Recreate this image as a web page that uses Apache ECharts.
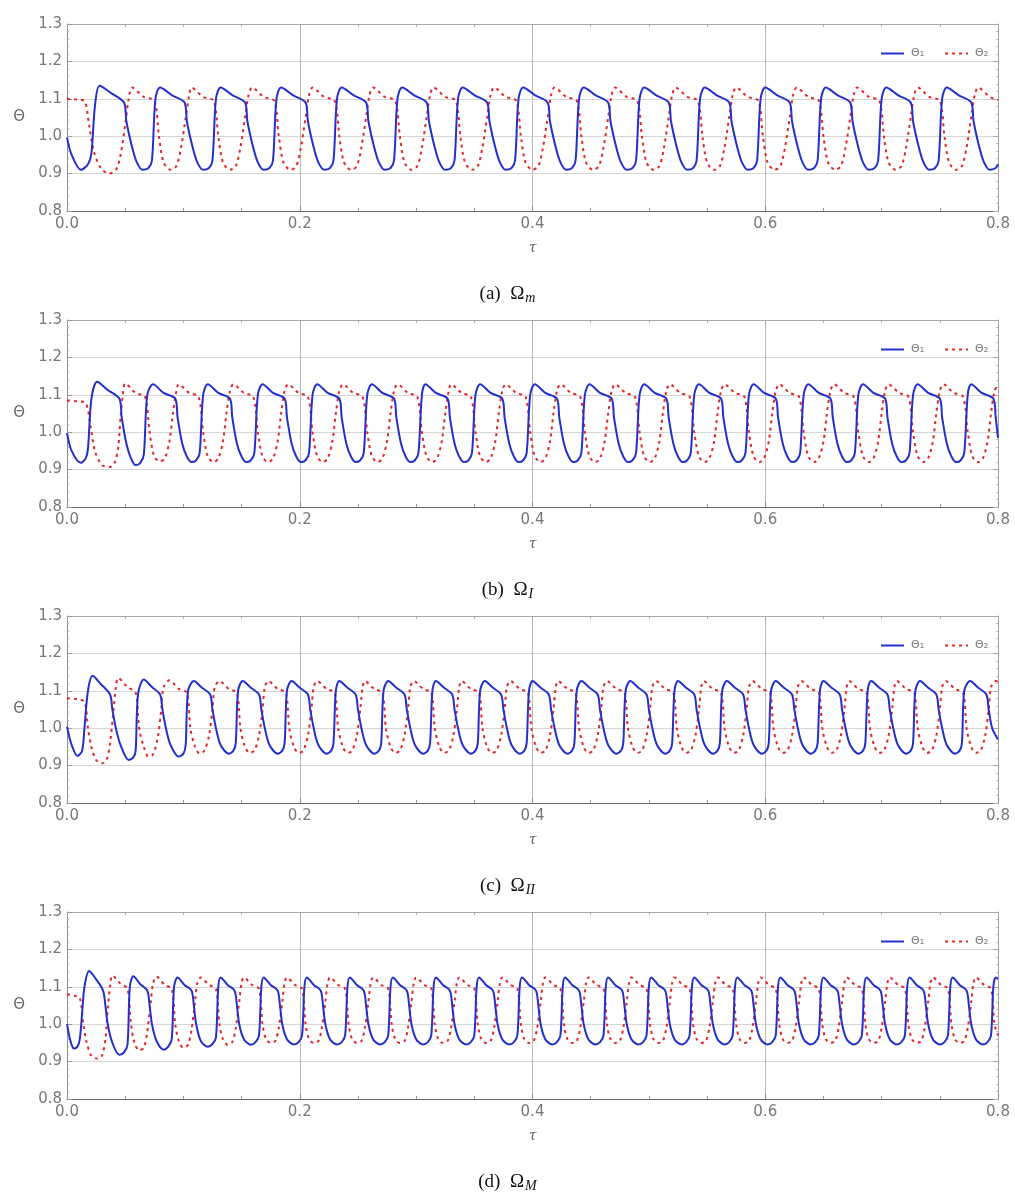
<!DOCTYPE html>
<html>
<head>
<meta charset="utf-8">
<script src="https://cdn.jsdelivr.net/npm/echarts@6/dist/echarts.min.js"></script>
<style>
html,body{margin:0;padding:0;background:#fff;}
#chart{width:1015px;height:1193px;}
</style>
</head>
<body>
<div id="chart"></div>
<script>
// ---- tick labels / axis ranges ----
const xTicks = [0.0, 0.2, 0.4, 0.6, 0.8];
const yTicks = [0.8, 0.9, 1.0, 1.1, 1.2, 1.3];
const legendNames = ['Θ₁', 'Θ₂'];
const captions = [['(a)  Ω', 'm'], ['(b)  Ω', 'I'], ['(c)  Ω', 'II'], ['(d)  Ω', 'M']];

// ---- panel (a) Ω_m : [τ, Θ] ----
const a1 = [[0,.997],[.004,.95],[.012,.91],[.018,.925],[.021,.955],[.024,1.08],
[.028,1.135],[.038,1.115],[.049,1.09],[.051,1.04],[.056,.97],[.060,.93],[.065,.91],[.070,.915],[.073,.935],[.076,1.10],
[.080,1.13],[.090,1.11],[.101,1.09],[.103,1.04],[.108,.97],[.112,.93],[.117,.91],[.122,.915],[.125,.935],[.128,1.10],
[.132,1.13],[.142,1.11],[.153,1.09],[.155,1.04],[.160,.97],[.164,.93],[.169,.91],[.174,.915],[.177,.935],[.180,1.10],
[.184,1.13],[.194,1.11],[.205,1.09],[.207,1.04],[.212,.97],[.216,.93],[.221,.91],[.226,.915],[.229,.935],[.232,1.10],
[.236,1.13],[.246,1.11],[.257,1.09],[.259,1.04],[.264,.97],[.268,.93],[.273,.91],[.278,.915],[.281,.935],[.284,1.10],
[.288,1.13],[.298,1.11],[.309,1.09],[.311,1.04],[.316,.97],[.320,.93],[.325,.91],[.330,.915],[.333,.935],[.336,1.10],
[.340,1.13],[.350,1.11],[.361,1.09],[.363,1.04],[.368,.97],[.372,.93],[.377,.91],[.382,.915],[.385,.935],[.388,1.10],
[.392,1.13],[.402,1.11],[.413,1.09],[.415,1.04],[.420,.97],[.424,.93],[.429,.91],[.434,.915],[.437,.935],[.440,1.10],
[.444,1.13],[.454,1.11],[.465,1.09],[.467,1.04],[.472,.97],[.476,.93],[.481,.91],[.486,.915],[.489,.935],[.492,1.10],
[.496,1.13],[.506,1.11],[.517,1.09],[.519,1.04],[.524,.97],[.528,.93],[.533,.91],[.538,.915],[.541,.935],[.544,1.10],
[.548,1.13],[.558,1.11],[.569,1.09],[.571,1.04],[.576,.97],[.580,.93],[.585,.91],[.590,.915],[.593,.935],[.596,1.10],
[.600,1.13],[.610,1.11],[.621,1.09],[.623,1.04],[.628,.97],[.632,.93],[.637,.91],[.642,.915],[.645,.935],[.648,1.10],
[.652,1.13],[.662,1.11],[.673,1.09],[.675,1.04],[.680,.97],[.684,.93],[.689,.91],[.694,.915],[.697,.935],[.700,1.10],
[.704,1.13],[.714,1.11],[.725,1.09],[.727,1.04],[.732,.97],[.736,.93],[.741,.91],[.746,.915],[.749,.935],[.752,1.10],
[.756,1.13],[.766,1.11],[.777,1.09],[.779,1.04],[.784,.97],[.788,.93],[.793,.91],[.798,.915],[.800,.925]];

const a2 = [[0,1.10],[.008,1.098],[.015,1.094],[.019,1.03],[.023,.96],[.029,.915],[.036,.90],[.042,.91],[.046,.95],[.050,1.03],[.053,1.10],
[.056,1.13],[.066,1.105],[.075,1.095],[.079,1.0],[.083,.93],[.089,.91],[.094,.92],[.098,.97],[.102,1.05],[.105,1.11],
[.107,1.13],[.117,1.105],[.126,1.095],[.130,1.0],[.134,.93],[.140,.91],[.145,.92],[.149,.97],[.153,1.05],[.156,1.11],
[.159,1.13],[.169,1.105],[.178,1.095],[.182,1.0],[.186,.93],[.192,.91],[.197,.92],[.201,.97],[.205,1.05],[.208,1.11],
[.211,1.13],[.221,1.105],[.230,1.095],[.234,1.0],[.238,.93],[.244,.91],[.249,.92],[.253,.97],[.257,1.05],[.260,1.11],
[.263,1.13],[.273,1.105],[.282,1.095],[.286,1.0],[.290,.93],[.296,.91],[.301,.92],[.305,.97],[.309,1.05],[.312,1.11],
[.315,1.13],[.325,1.105],[.334,1.095],[.338,1.0],[.342,.93],[.348,.91],[.353,.92],[.357,.97],[.361,1.05],[.364,1.11],
[.367,1.13],[.377,1.105],[.386,1.095],[.390,1.0],[.394,.93],[.400,.91],[.405,.92],[.409,.97],[.413,1.05],[.416,1.11],
[.419,1.13],[.429,1.105],[.438,1.095],[.442,1.0],[.446,.93],[.452,.91],[.457,.92],[.461,.97],[.465,1.05],[.468,1.11],
[.471,1.13],[.481,1.105],[.490,1.095],[.494,1.0],[.498,.93],[.504,.91],[.509,.92],[.513,.97],[.517,1.05],[.520,1.11],
[.523,1.13],[.533,1.105],[.542,1.095],[.546,1.0],[.550,.93],[.556,.91],[.561,.92],[.565,.97],[.569,1.05],[.572,1.11],
[.575,1.13],[.585,1.105],[.594,1.095],[.598,1.0],[.602,.93],[.608,.91],[.613,.92],[.617,.97],[.621,1.05],[.624,1.11],
[.627,1.13],[.637,1.105],[.646,1.095],[.650,1.0],[.654,.93],[.660,.91],[.665,.92],[.669,.97],[.673,1.05],[.676,1.11],
[.679,1.13],[.689,1.105],[.698,1.095],[.702,1.0],[.706,.93],[.712,.91],[.717,.92],[.721,.97],[.725,1.05],[.728,1.11],
[.731,1.13],[.741,1.105],[.750,1.095],[.754,1.0],[.758,.93],[.764,.91],[.769,.92],[.773,.97],[.777,1.05],[.780,1.11],
[.783,1.13],[.793,1.105],[.800,1.097]];

// ---- panel (b) Ω_I ----
const b1 = [[0,.998],[.004,.95],[.012,.918],[.016,.93],[.018,.955],[.021,1.09],
[.026,1.135],[.035,1.113],[.045,1.09],[.047,1.04],[.051,.97],[.055,.93],[.059,.912],[.063,.918],[.066,.94],[.069,1.10],
[.074,1.128],[.083,1.105],[.093,1.09],[.095,1.04],[.099,.97],[.103,.935],[.107,.92],[.111,.925],[.114,.945],[.117,1.10],
[.121,1.128],[.130,1.105],[.140,1.09],[.142,1.04],[.146,.97],[.150,.935],[.154,.92],[.158,.925],[.161,.945],[.164,1.10],
[.168,1.128],[.177,1.105],[.187,1.09],[.189,1.04],[.193,.97],[.197,.935],[.201,.92],[.205,.925],[.208,.945],[.211,1.10],
[.215,1.128],[.224,1.105],[.234,1.09],[.236,1.04],[.240,.97],[.244,.935],[.248,.92],[.252,.925],[.255,.945],[.258,1.10],
[.262,1.128],[.271,1.105],[.281,1.09],[.283,1.04],[.287,.97],[.291,.935],[.295,.92],[.299,.925],[.302,.945],[.305,1.10],
[.308,1.128],[.317,1.105],[.327,1.09],[.329,1.04],[.333,.97],[.337,.935],[.341,.92],[.345,.925],[.348,.945],[.351,1.10],
[.355,1.128],[.364,1.105],[.374,1.09],[.376,1.04],[.380,.97],[.384,.935],[.388,.92],[.392,.925],[.395,.945],[.398,1.10],
[.402,1.128],[.411,1.105],[.421,1.09],[.423,1.04],[.427,.97],[.431,.935],[.435,.92],[.439,.925],[.442,.945],[.445,1.10],
[.449,1.128],[.458,1.105],[.468,1.09],[.470,1.04],[.474,.97],[.478,.935],[.482,.92],[.486,.925],[.489,.945],[.492,1.10],
[.496,1.128],[.505,1.105],[.515,1.09],[.517,1.04],[.521,.97],[.525,.935],[.529,.92],[.533,.925],[.536,.945],[.539,1.10],
[.543,1.128],[.552,1.105],[.562,1.09],[.564,1.04],[.568,.97],[.572,.935],[.576,.92],[.580,.925],[.583,.945],[.586,1.10],
[.590,1.128],[.599,1.105],[.609,1.09],[.611,1.04],[.615,.97],[.619,.935],[.623,.92],[.627,.925],[.630,.945],[.633,1.10],
[.637,1.128],[.646,1.105],[.656,1.09],[.658,1.04],[.662,.97],[.666,.935],[.670,.92],[.674,.925],[.677,.945],[.680,1.10],
[.684,1.128],[.693,1.105],[.703,1.09],[.705,1.04],[.709,.97],[.713,.935],[.717,.92],[.721,.925],[.724,.945],[.727,1.10],
[.731,1.128],[.740,1.105],[.750,1.09],[.752,1.04],[.756,.97],[.760,.935],[.764,.92],[.768,.925],[.771,.945],[.774,1.10],
[.777,1.128],[.786,1.105],[.796,1.09],[.798,1.04],[.800,.985]];

const b2 = [[0,1.085],[.008,1.083],[.016,1.078],[.020,1.02],[.024,.95],[.030,.912],[.037,.907],[.041,.918],[.044,.96],[.046,1.04],[.048,1.10],
[.050,1.13],[.059,1.105],[.067,1.095],[.071,1.0],[.075,.935],[.080,.922],[.084,.93],[.088,.975],[.091,1.05],[.094,1.11],
[.096,1.128],[.105,1.105],[.113,1.095],[.117,1.0],[.121,.935],[.126,.92],[.130,.93],[.134,.975],[.137,1.05],[.140,1.11],
[.143,1.128],[.152,1.105],[.160,1.095],[.164,1.0],[.168,.935],[.173,.92],[.177,.93],[.181,.975],[.184,1.05],[.187,1.11],
[.190,1.128],[.199,1.105],[.207,1.095],[.211,1.0],[.215,.935],[.220,.92],[.224,.93],[.228,.975],[.231,1.05],[.234,1.11],
[.237,1.128],[.246,1.105],[.254,1.095],[.258,1.0],[.262,.935],[.267,.92],[.271,.93],[.275,.975],[.278,1.05],[.281,1.11],
[.284,1.128],[.293,1.105],[.301,1.095],[.305,1.0],[.309,.935],[.314,.92],[.318,.93],[.322,.975],[.325,1.05],[.328,1.11],
[.330,1.128],[.339,1.105],[.347,1.095],[.351,1.0],[.355,.935],[.360,.92],[.364,.93],[.368,.975],[.371,1.05],[.374,1.11],
[.377,1.128],[.386,1.105],[.394,1.095],[.398,1.0],[.402,.935],[.407,.92],[.411,.93],[.415,.975],[.418,1.05],[.421,1.11],
[.424,1.128],[.433,1.105],[.441,1.095],[.445,1.0],[.449,.935],[.454,.92],[.458,.93],[.462,.975],[.465,1.05],[.468,1.11],
[.471,1.128],[.480,1.105],[.488,1.095],[.492,1.0],[.496,.935],[.501,.92],[.505,.93],[.509,.975],[.512,1.05],[.515,1.11],
[.518,1.128],[.527,1.105],[.535,1.095],[.539,1.0],[.543,.935],[.548,.92],[.552,.93],[.556,.975],[.559,1.05],[.562,1.11],
[.565,1.128],[.574,1.105],[.582,1.095],[.586,1.0],[.590,.935],[.595,.92],[.599,.93],[.603,.975],[.606,1.05],[.609,1.11],
[.612,1.128],[.621,1.105],[.629,1.095],[.633,1.0],[.637,.935],[.642,.92],[.646,.93],[.650,.975],[.653,1.05],[.656,1.11],
[.659,1.128],[.668,1.105],[.676,1.095],[.680,1.0],[.684,.935],[.689,.92],[.693,.93],[.697,.975],[.700,1.05],[.703,1.11],
[.706,1.128],[.715,1.105],[.723,1.095],[.727,1.0],[.731,.935],[.736,.92],[.740,.93],[.744,.975],[.747,1.05],[.750,1.11],
[.753,1.128],[.762,1.105],[.770,1.095],[.774,1.0],[.778,.935],[.783,.92],[.787,.93],[.791,.975],[.794,1.05],[.797,1.11],
[.800,1.127]];

// ---- panel (c) Ω_II ----
const c1 = [[0,1.004],[.004,.955],[.009,.926],[.013,.94],[.015,1.0],[.018,1.10],
[.022,1.14],[.029,1.118],[.037,1.09],[.039,1.05],[.042,1.0],[.046,.955],[.053,.915],[.057,.922],[.059,.94],[.061,1.09],
[.066,1.13],[.073,1.11],[.080,1.09],[.082,1.05],[.085,1.0],[.089,.955],[.096,.924],[.100,.932],[.102,.955],[.104,1.10],
[.109,1.126],[.116,1.108],[.123,1.09],[.125,1.05],[.128,1.0],[.132,.955],[.139,.932],[.143,.94],[.145,.96],[.147,1.10],
[.151,1.126],[.158,1.108],[.165,1.09],[.167,1.05],[.170,1.0],[.174,.955],[.181,.932],[.185,.94],[.187,.96],[.189,1.10],
[.193,1.126],[.200,1.108],[.207,1.09],[.209,1.05],[.212,1.0],[.216,.955],[.223,.932],[.227,.94],[.229,.96],[.231,1.10],
[.234,1.126],[.241,1.108],[.248,1.09],[.250,1.05],[.253,1.0],[.257,.955],[.264,.932],[.268,.94],[.270,.96],[.272,1.10],
[.276,1.126],[.283,1.108],[.290,1.09],[.292,1.05],[.295,1.0],[.299,.955],[.306,.932],[.310,.94],[.312,.96],[.314,1.10],
[.317,1.126],[.324,1.108],[.331,1.09],[.333,1.05],[.336,1.0],[.340,.955],[.347,.932],[.351,.94],[.353,.96],[.355,1.10],
[.359,1.126],[.366,1.108],[.373,1.09],[.375,1.05],[.378,1.0],[.382,.955],[.389,.932],[.393,.94],[.395,.96],[.397,1.10],
[.400,1.126],[.407,1.108],[.414,1.09],[.416,1.05],[.419,1.0],[.423,.955],[.430,.932],[.434,.94],[.436,.96],[.438,1.10],
[.442,1.126],[.449,1.108],[.456,1.09],[.458,1.05],[.461,1.0],[.465,.955],[.472,.932],[.476,.94],[.478,.96],[.480,1.10],
[.484,1.126],[.491,1.108],[.498,1.09],[.500,1.05],[.503,1.0],[.507,.955],[.514,.932],[.518,.94],[.520,.96],[.522,1.10],
[.525,1.126],[.532,1.108],[.539,1.09],[.541,1.05],[.544,1.0],[.548,.955],[.555,.932],[.559,.94],[.561,.96],[.563,1.10],
[.567,1.126],[.574,1.108],[.581,1.09],[.583,1.05],[.586,1.0],[.590,.955],[.597,.932],[.601,.94],[.603,.96],[.605,1.10],
[.609,1.126],[.616,1.108],[.623,1.09],[.625,1.05],[.628,1.0],[.632,.955],[.639,.932],[.643,.94],[.645,.96],[.647,1.10],
[.650,1.126],[.657,1.108],[.664,1.09],[.666,1.05],[.669,1.0],[.673,.955],[.680,.932],[.684,.94],[.686,.96],[.688,1.10],
[.691,1.126],[.698,1.108],[.705,1.09],[.707,1.05],[.710,1.0],[.714,.955],[.721,.932],[.725,.94],[.727,.96],[.729,1.10],
[.733,1.126],[.740,1.108],[.747,1.09],[.749,1.05],[.752,1.0],[.756,.955],[.763,.932],[.767,.94],[.769,.96],[.771,1.10],
[.776,1.126],[.783,1.108],[.790,1.09],[.792,1.05],[.795,1.0],[.800,.97]];

const c2 = [[0,1.08],[.008,1.078],[.015,1.07],[.018,1.0],[.021,.95],[.025,.915],[.030,.906],[.034,.915],[.037,.96],[.040,1.05],[.042,1.11],
[.044,1.134],[.052,1.11],[.059,1.095],[.062,1.0],[.066,.95],[.070,.924],[.074,.93],[.078,.975],[.081,1.05],[.083,1.11],
[.088,1.128],[.096,1.105],[.103,1.095],[.106,1.0],[.110,.95],[.114,.932],[.118,.94],[.122,.98],[.125,1.05],[.127,1.11],
[.131,1.126],[.139,1.105],[.146,1.095],[.149,1.0],[.153,.95],[.157,.934],[.161,.94],[.165,.98],[.168,1.05],[.170,1.11],
[.173,1.126],[.181,1.105],[.188,1.095],[.191,1.0],[.195,.95],[.199,.934],[.203,.94],[.207,.98],[.210,1.05],[.212,1.11],
[.215,1.126],[.223,1.105],[.230,1.095],[.233,1.0],[.237,.95],[.241,.934],[.245,.94],[.249,.98],[.252,1.05],[.254,1.11],
[.256,1.126],[.264,1.105],[.271,1.095],[.274,1.0],[.278,.95],[.282,.934],[.286,.94],[.290,.98],[.293,1.05],[.295,1.11],
[.298,1.126],[.306,1.105],[.313,1.095],[.316,1.0],[.320,.95],[.324,.934],[.328,.94],[.332,.98],[.335,1.05],[.337,1.11],
[.339,1.126],[.347,1.105],[.354,1.095],[.357,1.0],[.361,.95],[.365,.934],[.369,.94],[.373,.98],[.376,1.05],[.378,1.11],
[.381,1.126],[.389,1.105],[.396,1.095],[.399,1.0],[.403,.95],[.407,.934],[.411,.94],[.415,.98],[.418,1.05],[.420,1.11],
[.422,1.126],[.430,1.105],[.437,1.095],[.440,1.0],[.444,.95],[.448,.934],[.452,.94],[.456,.98],[.459,1.05],[.461,1.11],
[.464,1.126],[.472,1.105],[.479,1.095],[.482,1.0],[.486,.95],[.490,.934],[.494,.94],[.498,.98],[.501,1.05],[.503,1.11],
[.506,1.126],[.514,1.105],[.521,1.095],[.524,1.0],[.528,.95],[.532,.934],[.536,.94],[.540,.98],[.543,1.05],[.545,1.11],
[.547,1.126],[.555,1.105],[.562,1.095],[.565,1.0],[.569,.95],[.573,.934],[.577,.94],[.581,.98],[.584,1.05],[.586,1.11],
[.589,1.126],[.597,1.105],[.604,1.095],[.607,1.0],[.611,.95],[.615,.934],[.619,.94],[.623,.98],[.626,1.05],[.628,1.11],
[.631,1.126],[.639,1.105],[.646,1.095],[.649,1.0],[.653,.95],[.657,.934],[.661,.94],[.665,.98],[.668,1.05],[.670,1.11],
[.672,1.126],[.680,1.105],[.687,1.095],[.690,1.0],[.694,.95],[.698,.934],[.702,.94],[.706,.98],[.709,1.05],[.711,1.11],
[.713,1.126],[.721,1.105],[.728,1.095],[.731,1.0],[.735,.95],[.739,.934],[.743,.94],[.747,.98],[.750,1.05],[.752,1.11],
[.755,1.126],[.763,1.105],[.770,1.095],[.773,1.0],[.777,.95],[.781,.934],[.785,.94],[.789,.98],[.792,1.05],[.794,1.11],
[.798,1.126],[.800,1.125]];

// ---- panel (d) Ω_M ----
const d1 = [[0,1.0],[.003,.955],[.006,.935],[.009,.94],[.011,.96],[.013,1.03],[.015,1.10],
[.019,1.142],[.025,1.12],[.031,1.09],[.033,1.05],[.035,1.0],[.039,.95],[.045,.918],[.049,.925],[.052,.945],[.054,1.10],
[.057,1.128],[.063,1.107],[.069,1.09],[.071,1.05],[.073,1.0],[.077,.955],[.083,.932],[.087,.94],[.090,.96],[.092,1.10],
[.095,1.125],[.101,1.105],[.107,1.09],[.109,1.05],[.111,1.0],[.115,.955],[.121,.94],[.125,.947],[.128,.965],[.130,1.10],
[.132,1.125],[.138,1.105],[.144,1.09],[.146,1.05],[.148,1.0],[.152,.96],[.158,.945],[.162,.952],[.165,.97],[.167,1.10],
[.169,1.125],[.175,1.105],[.181,1.09],[.183,1.05],[.185,1.0],[.189,.96],[.195,.946],[.199,.952],[.202,.97],[.204,1.10],
[.206,1.125],[.212,1.105],[.218,1.09],[.220,1.05],[.222,1.0],[.226,.96],[.232,.946],[.236,.952],[.239,.97],[.241,1.10],
[.243,1.125],[.249,1.105],[.255,1.09],[.257,1.05],[.259,1.0],[.263,.96],[.269,.946],[.273,.952],[.276,.97],[.278,1.10],
[.280,1.125],[.286,1.105],[.292,1.09],[.294,1.05],[.296,1.0],[.300,.96],[.306,.946],[.310,.952],[.313,.97],[.315,1.10],
[.317,1.125],[.323,1.105],[.329,1.09],[.331,1.05],[.333,1.0],[.337,.96],[.343,.946],[.347,.952],[.350,.97],[.352,1.10],
[.354,1.125],[.360,1.105],[.366,1.09],[.368,1.05],[.370,1.0],[.374,.96],[.380,.946],[.384,.952],[.387,.97],[.389,1.10],
[.391,1.125],[.397,1.105],[.403,1.09],[.405,1.05],[.407,1.0],[.411,.96],[.417,.946],[.421,.952],[.424,.97],[.426,1.10],
[.428,1.125],[.434,1.105],[.440,1.09],[.442,1.05],[.444,1.0],[.448,.96],[.454,.946],[.458,.952],[.461,.97],[.463,1.10],
[.465,1.125],[.471,1.105],[.477,1.09],[.479,1.05],[.481,1.0],[.485,.96],[.491,.946],[.495,.952],[.498,.97],[.500,1.10],
[.502,1.125],[.508,1.105],[.514,1.09],[.516,1.05],[.518,1.0],[.522,.96],[.528,.946],[.532,.952],[.535,.97],[.537,1.10],
[.539,1.125],[.545,1.105],[.551,1.09],[.553,1.05],[.555,1.0],[.559,.96],[.565,.946],[.569,.952],[.572,.97],[.574,1.10],
[.576,1.125],[.582,1.105],[.588,1.09],[.590,1.05],[.592,1.0],[.596,.96],[.602,.946],[.606,.952],[.609,.97],[.611,1.10],
[.613,1.125],[.619,1.105],[.625,1.09],[.627,1.05],[.629,1.0],[.633,.96],[.639,.946],[.643,.952],[.646,.97],[.648,1.10],
[.650,1.125],[.656,1.105],[.662,1.09],[.664,1.05],[.666,1.0],[.670,.96],[.676,.946],[.680,.952],[.683,.97],[.685,1.10],
[.687,1.125],[.693,1.105],[.699,1.09],[.701,1.05],[.703,1.0],[.707,.96],[.713,.946],[.717,.952],[.720,.97],[.722,1.10],
[.724,1.125],[.730,1.105],[.736,1.09],[.738,1.05],[.740,1.0],[.744,.96],[.750,.946],[.754,.952],[.757,.97],[.759,1.10],
[.761,1.125],[.767,1.105],[.773,1.09],[.775,1.05],[.777,1.0],[.781,.96],[.787,.946],[.791,.952],[.794,.97],[.796,1.10],
[.798,1.125],[.800,1.122]];

const d2 = [[0,1.08],[.006,1.076],[.011,1.07],[.014,1.0],[.017,.95],[.021,.915],[.026,.908],[.030,.915],[.033,.96],[.035,1.04],[.037,1.10],
[.039,1.13],[.046,1.108],[.052,1.095],[.055,1.0],[.058,.95],[.062,.93],[.066,.937],[.069,.98],[.072,1.06],[.074,1.11],
[.077,1.127],[.084,1.105],[.090,1.095],[.093,1.0],[.096,.955],[.100,.937],[.104,.945],[.107,.985],[.110,1.06],[.112,1.11],
[.115,1.125],[.122,1.105],[.128,1.095],[.131,1.0],[.134,.96],[.138,.945],[.142,.952],[.145,.99],[.148,1.06],[.150,1.11],
[.152,1.125],[.159,1.105],[.165,1.095],[.168,1.0],[.171,.96],[.175,.95],[.179,.955],[.182,.99],[.185,1.06],[.187,1.11],
[.189,1.125],[.196,1.105],[.202,1.095],[.205,1.0],[.208,.96],[.212,.95],[.216,.955],[.219,.99],[.222,1.06],[.224,1.11],
[.226,1.125],[.233,1.105],[.239,1.095],[.242,1.0],[.245,.96],[.249,.95],[.253,.955],[.256,.99],[.259,1.06],[.261,1.11],
[.263,1.125],[.270,1.105],[.276,1.095],[.279,1.0],[.282,.96],[.286,.95],[.290,.955],[.293,.99],[.296,1.06],[.298,1.11],
[.300,1.125],[.307,1.105],[.313,1.095],[.316,1.0],[.319,.96],[.323,.95],[.327,.955],[.330,.99],[.333,1.06],[.335,1.11],
[.337,1.125],[.344,1.105],[.350,1.095],[.353,1.0],[.356,.96],[.360,.95],[.364,.955],[.367,.99],[.370,1.06],[.372,1.11],
[.374,1.125],[.381,1.105],[.387,1.095],[.390,1.0],[.393,.96],[.397,.95],[.401,.955],[.404,.99],[.407,1.06],[.409,1.11],
[.411,1.125],[.418,1.105],[.424,1.095],[.427,1.0],[.430,.96],[.434,.95],[.438,.955],[.441,.99],[.444,1.06],[.446,1.11],
[.448,1.125],[.455,1.105],[.461,1.095],[.464,1.0],[.467,.96],[.471,.95],[.475,.955],[.478,.99],[.481,1.06],[.483,1.11],
[.485,1.125],[.492,1.105],[.498,1.095],[.501,1.0],[.504,.96],[.508,.95],[.512,.955],[.515,.99],[.518,1.06],[.520,1.11],
[.522,1.125],[.529,1.105],[.535,1.095],[.538,1.0],[.541,.96],[.545,.95],[.549,.955],[.552,.99],[.555,1.06],[.557,1.11],
[.559,1.125],[.566,1.105],[.572,1.095],[.575,1.0],[.578,.96],[.582,.95],[.586,.955],[.589,.99],[.592,1.06],[.594,1.11],
[.596,1.125],[.603,1.105],[.609,1.095],[.612,1.0],[.615,.96],[.619,.95],[.623,.955],[.626,.99],[.629,1.06],[.631,1.11],
[.633,1.125],[.640,1.105],[.646,1.095],[.649,1.0],[.652,.96],[.656,.95],[.660,.955],[.663,.99],[.666,1.06],[.668,1.11],
[.670,1.125],[.677,1.105],[.683,1.095],[.686,1.0],[.689,.96],[.693,.95],[.697,.955],[.700,.99],[.703,1.06],[.705,1.11],
[.707,1.125],[.714,1.105],[.720,1.095],[.723,1.0],[.726,.96],[.730,.95],[.734,.955],[.737,.99],[.740,1.06],[.742,1.11],
[.744,1.125],[.751,1.105],[.757,1.095],[.760,1.0],[.763,.96],[.767,.95],[.771,.955],[.774,.99],[.777,1.06],[.779,1.11],
[.781,1.125],[.788,1.105],[.794,1.095],[.797,1.0],[.800,.97]];

const panelData = [[a1, a2], [b1, b2], [c1, c2], [d1, d2]];

// ---- layout ----
const PLOT_LEFT = 67, PLOT_RIGHT = 17, PLOT_H = 187;
const TOPS = [24, 320, 616, 912];
const BLUE = '#2430cc', RED = '#e3262a';
const LABEL_FONT = 'DejaVu Sans';

const grids = [], xAxes = [], yAxes = [], series = [], legends = [], titles = [];
TOPS.forEach((top, i) => {
  grids.push({left: PLOT_LEFT, right: PLOT_RIGHT, top: top, height: PLOT_H, containLabel: false});
  xAxes.push({
    type: 'value', gridIndex: i, min: xTicks[0], max: xTicks[xTicks.length - 1], interval: 0.2,
    name: 'τ', nameLocation: 'middle', nameGap: 30,
    nameTextStyle: {fontFamily: 'DejaVu Serif', fontStyle: 'italic', fontSize: 14, color: '#666'},
    axisLine: {onZero: false, lineStyle: {color: '#6a6a6a', width: 1}},
    axisTick: {inside: true, length: 5, lineStyle: {color: '#888'}},
    minorTick: {show: true, splitNumber: 4, length: 3, lineStyle: {color: '#999'}},
    axisLabel: {margin: 6, fontFamily: LABEL_FONT, fontSize: 15, color: '#777', formatter: v => v.toFixed(1)},
    splitLine: {show: true, lineStyle: {color: '#b8b8b8', width: 1}}
  });
  xAxes.push({
    type: 'value', gridIndex: i, position: 'top', min: xTicks[0], max: xTicks[xTicks.length - 1], interval: 0.2,
    axisLine: {onZero: false, lineStyle: {color: '#a8a8a8', width: 1}},
    axisTick: {inside: true, length: 5, lineStyle: {color: '#aaa'}},
    minorTick: {show: true, splitNumber: 4, length: 3, lineStyle: {color: '#aaa'}},
    axisLabel: {show: false}, splitLine: {show: false}
  });
  yAxes.push({
    type: 'value', gridIndex: i, min: yTicks[0], max: yTicks[yTicks.length - 1], interval: 0.1,
    name: 'Θ', nameLocation: 'middle', nameGap: 42, nameRotate: 0,
    nameTextStyle: {fontFamily: LABEL_FONT, fontSize: 15, color: '#666'},
    axisLine: {show: true, onZero: false, lineStyle: {color: '#8a8a8a', width: 1}},
    axisTick: {show: true, inside: true, length: 5, lineStyle: {color: '#999'}},
    minorTick: {show: true, splitNumber: 5, length: 2, lineStyle: {color: '#aaa'}},
    axisLabel: {margin: 5, fontFamily: LABEL_FONT, fontSize: 15, color: '#777', formatter: v => v.toFixed(1)},
    splitLine: {show: true, lineStyle: {color: '#d6d6d6', width: 1}}
  });
  yAxes.push({
    type: 'value', gridIndex: i, position: 'right', min: yTicks[0], max: yTicks[yTicks.length - 1], interval: 0.1,
    axisLine: {show: true, onZero: false, lineStyle: {color: '#a0a0a0', width: 1}},
    axisTick: {show: true, inside: true, length: 5, lineStyle: {color: '#aaa'}},
    minorTick: {show: true, splitNumber: 5, length: 2, lineStyle: {color: '#bbb'}},
    axisLabel: {show: false}, splitLine: {show: false}
  });
  const [s1, s2] = panelData[i];
  series.push({
    name: legendNames[0], type: 'line', xAxisIndex: 2 * i, yAxisIndex: 2 * i, data: s1,
    showSymbol: false, symbol: 'none', smooth: 0.3, z: 3,
    lineStyle: {color: BLUE, width: 2}, itemStyle: {color: BLUE}
  });
  series.push({
    name: legendNames[1], type: 'line', xAxisIndex: 2 * i, yAxisIndex: 2 * i, data: s2,
    showSymbol: false, symbol: 'none', smooth: 0.3, z: 2,
    lineStyle: {color: RED, width: 2, type: [3, 4]}, itemStyle: {color: RED}
  });
  legends.push({
    data: legendNames, left: 875, top: top + 19, itemWidth: 23, itemHeight: 10, itemGap: 20,
    selectedMode: false,
    itemStyle: {opacity: 0, borderWidth: 0},
    textStyle: {fontFamily: LABEL_FONT, fontSize: 11, color: '#777', padding: [0, 0, 0, 2]}
  });
  titles.push({
    text: captions[i][0] + '{s|' + captions[i][1] + '}',
    left: 'center', top: top + 254,
    textStyle: {
      fontFamily: 'Liberation Serif', fontSize: 19, fontWeight: 'normal', color: '#111',
      rich: {s: {fontFamily: 'Liberation Serif', fontSize: 14, fontStyle: 'italic', color: '#111', padding: [8, 0, 0, 1]}}
    }
  });
});

const chart = echarts.init(document.getElementById('chart'), null, {renderer: 'canvas'});
chart.setOption({
  animation: false,
  backgroundColor: '#fff',
  title: titles,
  legend: legends,
  grid: grids,
  xAxis: xAxes,
  yAxis: yAxes,
  series: series
});
</script>
</body>
</html>
